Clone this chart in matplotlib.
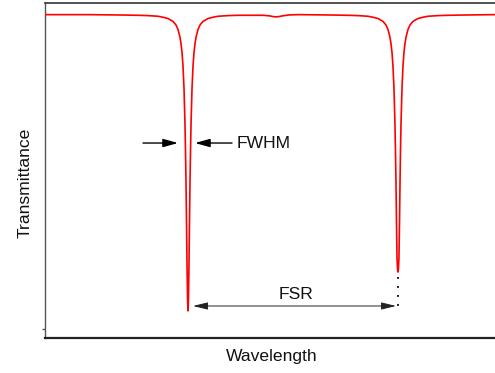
import matplotlib
matplotlib.use("Agg")
import matplotlib.pyplot as plt

plt.rcParams["font.family"] = ["Liberation Sans", "DejaVu Sans"]

# transmission spectrum (wavelength in arbitrary units)
wavelength = [
    0.000, 0.956, 1.622, 2.067, 2.289, 2.511, 2.622, 2.734, 2.845, 2.911, 2.956,
    3.000, 3.022, 3.045, 3.067, 3.089, 3.111, 3.122, 3.134, 3.145, 3.156, 3.167,
    3.178,
    3.189, 3.200, 3.211, 3.222, 3.234, 3.245, 3.267, 3.289, 3.311, 3.334, 3.356,
    3.400, 3.445, 3.511, 3.622, 3.734, 3.845, 4.067, 4.289, 4.600,
    4.850, 5.000, 5.070, 5.133, 5.200, 5.270, 5.420,
    5.622, 6.289, 6.733, 6.955, 7.177, 7.288, 7.400, 7.511, 7.577, 7.622, 7.666,
    7.688, 7.711, 7.733, 7.755, 7.777, 7.788, 7.800, 7.811, 7.822, 7.833,
    7.844,
    7.855, 7.866, 7.878, 7.889, 7.900, 7.911, 7.933, 7.955, 7.977, 8.000, 8.022,
    8.066, 8.111, 8.177, 8.288, 8.400, 8.511, 8.733, 8.955, 9.400, 10.000,
]
transmittance = [
    1.000, 1.000, 0.999, 0.998, 0.997, 0.995, 0.992, 0.988, 0.979, 0.968, 0.954,
    0.930, 0.911, 0.883, 0.840, 0.772, 0.661, 0.580, 0.478, 0.357, 0.229, 0.125,
    0.084,
    0.125, 0.229, 0.357, 0.478, 0.580, 0.661, 0.772, 0.840, 0.883, 0.911, 0.930,
    0.954, 0.968, 0.979, 0.988, 0.992, 0.995, 0.997, 0.998, 0.998,
    0.998, 0.996, 0.994, 0.993, 0.994, 0.996, 0.999,
    1.000, 0.999, 0.998, 0.997, 0.995, 0.992, 0.988, 0.979, 0.968, 0.954, 0.930,
    0.911, 0.883, 0.840, 0.772, 0.661, 0.580, 0.478, 0.357, 0.250, 0.215,
    0.204,
    0.215, 0.250, 0.357, 0.478, 0.580, 0.661, 0.772, 0.840, 0.883, 0.911, 0.930,
    0.954, 0.968, 0.979, 0.988, 0.992, 0.995, 0.997, 0.998, 0.999, 1.000,
]

# annotation anchors
fwhm_y = 0.603
fwhm_left = [2.178, 2.956]
fwhm_right = [4.156, 3.333]
fwhm_text_x = 4.267
fsr_y = 0.099
fsr_span = [3.289, 7.800]
fsr_text = [5.578, 0.133]
dots_x = 7.844
dots_y = [0.190, 0.096]

FS = 12.6

fig = plt.figure(figsize=(4.95, 3.73), dpi=100)
ax = fig.add_axes([45 / 495, 35 / 373, 450 / 495, 335 / 373])

ax.plot(wavelength, transmittance, color="#ff0000", lw=1.2, zorder=3)

ax.set_xlim(0, 10)
ax.set_ylim(0, 1.036)

# FWHM arrows
for (x0, x1) in (fwhm_left, fwhm_right):
    ax.annotate("", xy=(x1, fwhm_y), xytext=(x0, fwhm_y),
                arrowprops=dict(arrowstyle="-|>,head_length=0.9,head_width=0.25",
                                color="black", lw=1.0, shrinkA=0, shrinkB=0))
ax.text(fwhm_text_x, fwhm_y, "FWHM", fontsize=FS, va="center", ha="left",
        color="#111111")

# FSR arrow
ax.annotate("", xy=(fsr_span[1], fsr_y), xytext=(fsr_span[0], fsr_y),
            arrowprops=dict(arrowstyle="<|-|>,head_length=0.9,head_width=0.22",
                            color="#222222", lw=0.7, shrinkA=0, shrinkB=0))
ax.text(fsr_text[0], fsr_text[1], "FSR", fontsize=FS, va="center", ha="center",
        color="#111111")
ax.plot([dots_x, dots_x], dots_y, color="black", lw=1.3,
        linestyle=(0, (1, 4)), zorder=2)

# frame
ax.spines["right"].set_visible(False)
ax.spines["left"].set_linewidth(1.0)
ax.spines["left"].set_color("#555555")
ax.spines["bottom"].set_linewidth(1.6)
ax.spines["bottom"].set_color("#222222")
ax.spines["top"].set_linewidth(1.2)
ax.spines["top"].set_color("#333333")
ax.set_xticks([])
ax.set_yticks([0.028], [""])
ax.tick_params(axis="y", length=2, width=1, color="#555555")

fig.text(25 / 495, 1 - 183 / 373, "Transmittance", fontsize=FS, rotation=90,
         ha="center", va="center", color="#111111")
fig.text(272 / 495, 1 - 357 / 373, "Wavelength", fontsize=FS,
         ha="center", va="center", color="#111111")

fig.savefig("out.png", dpi=100)
